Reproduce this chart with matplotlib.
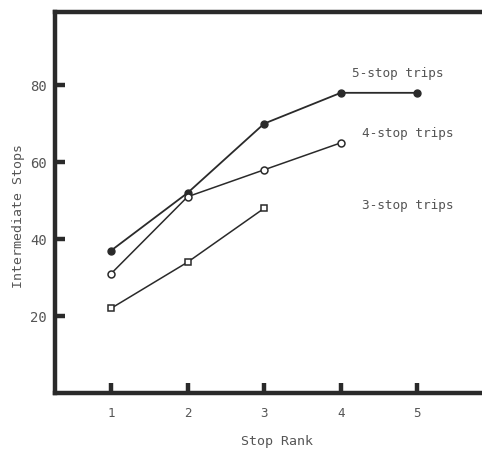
import matplotlib
matplotlib.use("Agg")
import matplotlib.pyplot as plt

# Data
stop_rank = [1, 2, 3, 4, 5]
five_stop = [37, 52, 70, 78, 78]
four_stop = [31, 51, 58, 65]
three_stop = [22, 34, 48]
y_ticks = [20, 40, 60, 80]
x_ticks = [1, 2, 3, 4, 5]
series_labels = ["5-stop trips", "4-stop trips", "3-stop trips"]

FONT = "DejaVu Sans Mono"
INK = "#2a2a2a"
TXT = "#555555"

fig = plt.figure(figsize=(4.82, 4.5), dpi=100)
fig.patch.set_facecolor("white")
ax = fig.add_axes([55 / 482, 1 - 393 / 450, (500 - 55) / 482, (393 - 12) / 450])
ax.set_facecolor("white")

ax.plot(stop_rank[:len(five_stop)], five_stop, color=INK, lw=1.3,
        marker="o", ms=5, mfc=INK, mec=INK, zorder=3)
ax.plot(stop_rank[:len(four_stop)], four_stop, color=INK, lw=1.1,
        marker="o", ms=5, mfc="white", mec=INK, mew=1.1, zorder=3)
ax.plot(stop_rank[:len(three_stop)], three_stop, color=INK, lw=1.1,
        marker="s", ms=5, mfc="white", mec=INK, mew=1.1, zorder=3)

ax.set_xlim(0.268, 6.08)
ax.set_ylim(0, 99)
ax.set_xticks(x_ticks)
ax.set_yticks(y_ticks)
ax.set_xticklabels([str(v) for v in x_ticks], fontfamily=FONT, fontsize=9, color=TXT)
ax.set_yticklabels([str(v) for v in y_ticks], fontfamily=FONT, fontsize=10, color=TXT)
ax.tick_params(axis="both", direction="in", length=7, width=3.2, color=INK)
ax.tick_params(axis="x", pad=10)
ax.tick_params(axis="y", pad=6)

for side in ["left", "bottom", "top"]:
    ax.spines[side].set_linewidth(3.2)
    ax.spines[side].set_color(INK)
ax.spines["right"].set_visible(False)

fig.text(277 / 482, 1 - 442 / 450, "Stop Rank", fontfamily=FONT, fontsize=9.5,
         color=TXT, ha="center", va="center")
fig.text(19 / 482, 1 - 216 / 450, "Intermediate Stops", fontfamily=FONT, fontsize=9.5,
         color=TXT, ha="center", va="center", rotation=90)

label_pos = [(4.74, 83), (4.87, 67.5), (4.87, 48.8)]
for txt, (lx, ly) in zip(series_labels, label_pos):
    ax.text(lx, ly, txt, fontfamily=FONT, fontsize=9.2, color=TXT,
            ha="center", va="center")

fig.savefig("out.png", dpi=100, facecolor="white")
